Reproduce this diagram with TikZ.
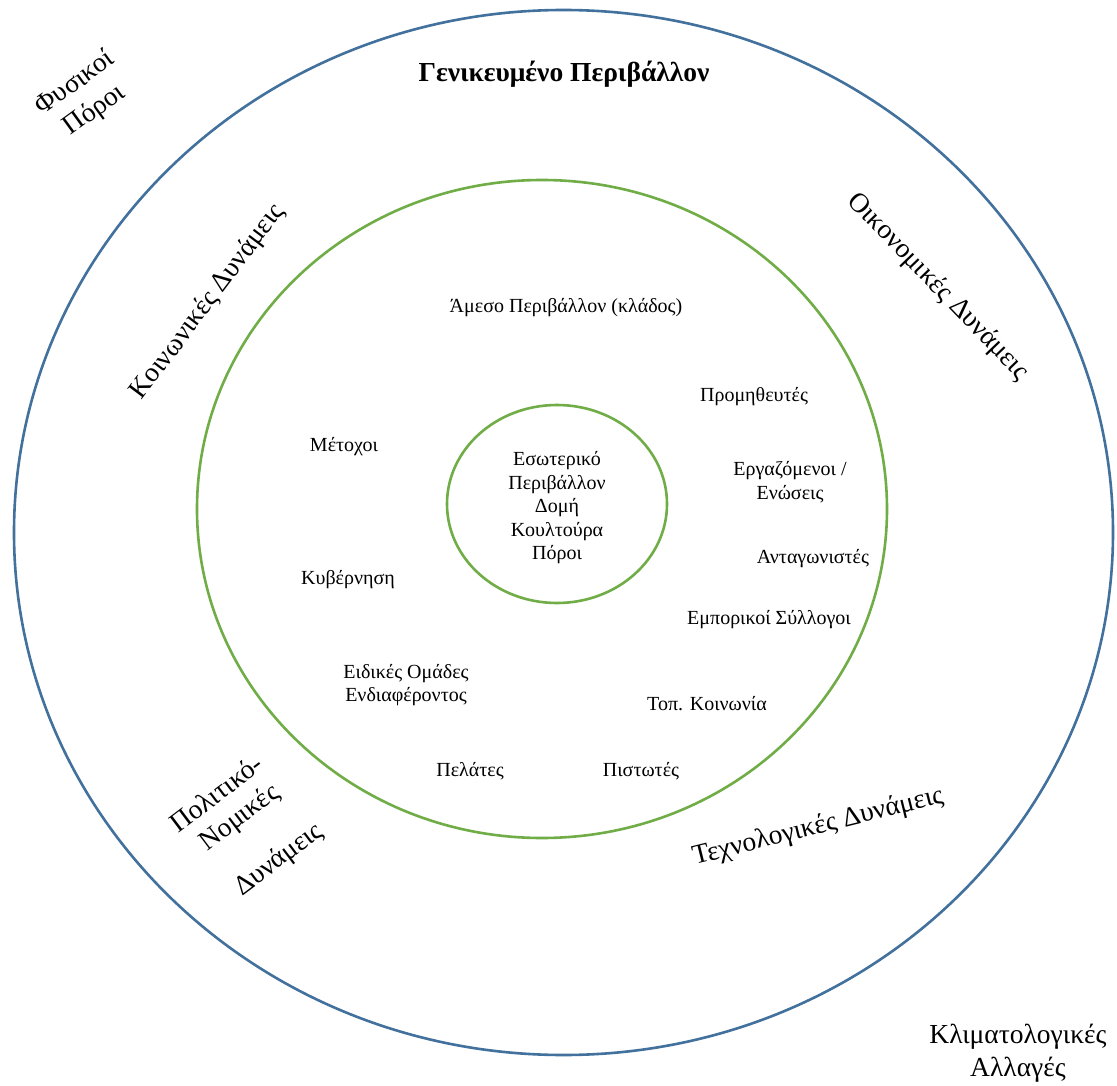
\documentclass[tikz,border=0pt]{standalone}
\usepackage{fontspec}
\setmainfont{Liberation Serif}
\definecolor{ringblue}{HTML}{41719C}
\definecolor{ringgreen}{HTML}{70AD47}
\begin{document}
\begin{tikzpicture}[x=1pt,y=-1pt,
  ring/.style={line width=2.6pt},
  small/.style={font=\fontsize{20}{23.5}\selectfont, inner sep=0pt, align=center},
  force/.style={font=\fontsize{27.5}{33}\selectfont, inner sep=0pt, align=center},
  title/.style={font=\fontsize{27.5}{32}\selectfont\bfseries, inner sep=0pt}]
\useasboundingbox (0,0) rectangle (1117,1086);
\fill[white] (0,0) rectangle (1117,1086);

% environment rings
\draw[ring, ringblue]  (563.5,532.5) ellipse [x radius=549.5pt, y radius=522.5pt];
\draw[ring, ringgreen] (542,509) ellipse [x radius=345pt, y radius=329pt];
\draw[ring, ringgreen] (557,504) ellipse [x radius=110pt, y radius=99pt];

% general environment
\node[title] (gen) at (564,74) {Γενικευμένο Περιβάλλον};
\node[force, rotate=36] (phys) at (85,97) {Φυσικοί\\Πόροι};
\node[force, rotate=53] (soc) at (208,302) {Κοινωνικές Δυνάμεις};
\node[force, rotate=-46] (econ) at (938,287) {Οικονομικές Δυνάμεις};
\node[force, rotate=37] (pol1) at (216,793) {Πολιτικό-};
\node[force, rotate=37] (pol2) at (240,818) {Νομικές};
\node[force, rotate=37] (pol3) at (279,860) {Δυνάμεις};
\node[force, rotate=14] (tech) at (818,827) {Τεχνολογικές Δυνάμεις};
\node[force] (clim) at (1018,1053) {Κλιματολογικές\\Αλλαγές};

% task environment
\node[small] (task) at (566,308) {Άμεσο Περιβάλλον (κλάδος)};
\node[small] (supp) at (754,397) {Προμηθευτές};
\node[small] (share) at (344,447) {Μέτοχοι};
\node[small] (empl) at (790,482) {Εργαζόμενοι /\\Ενώσεις};
\node[small] (comp) at (813,559) {Ανταγωνιστές};
\node[small] (gov) at (348,580) {Κυβέρνηση};
\node[small] (trade) at (769,620) {Εμπορικοί Σύλλογοι};
\node[small] (spec) at (406,685) {Ειδικές Ομάδες\\Ενδιαφέροντος};
\node[small] (local) at (707,704) {Τοπ. Κοινωνία};
\node[small] (cust) at (470,771) {Πελάτες};
\node[small] (cred) at (641,771) {Πιστωτές};

% internal environment
\node[small] (inner) at (557,508) {Εσωτερικό\\Περιβάλλον\\Δομή\\Κουλτούρα\\Πόροι};
\end{tikzpicture}
\end{document}
